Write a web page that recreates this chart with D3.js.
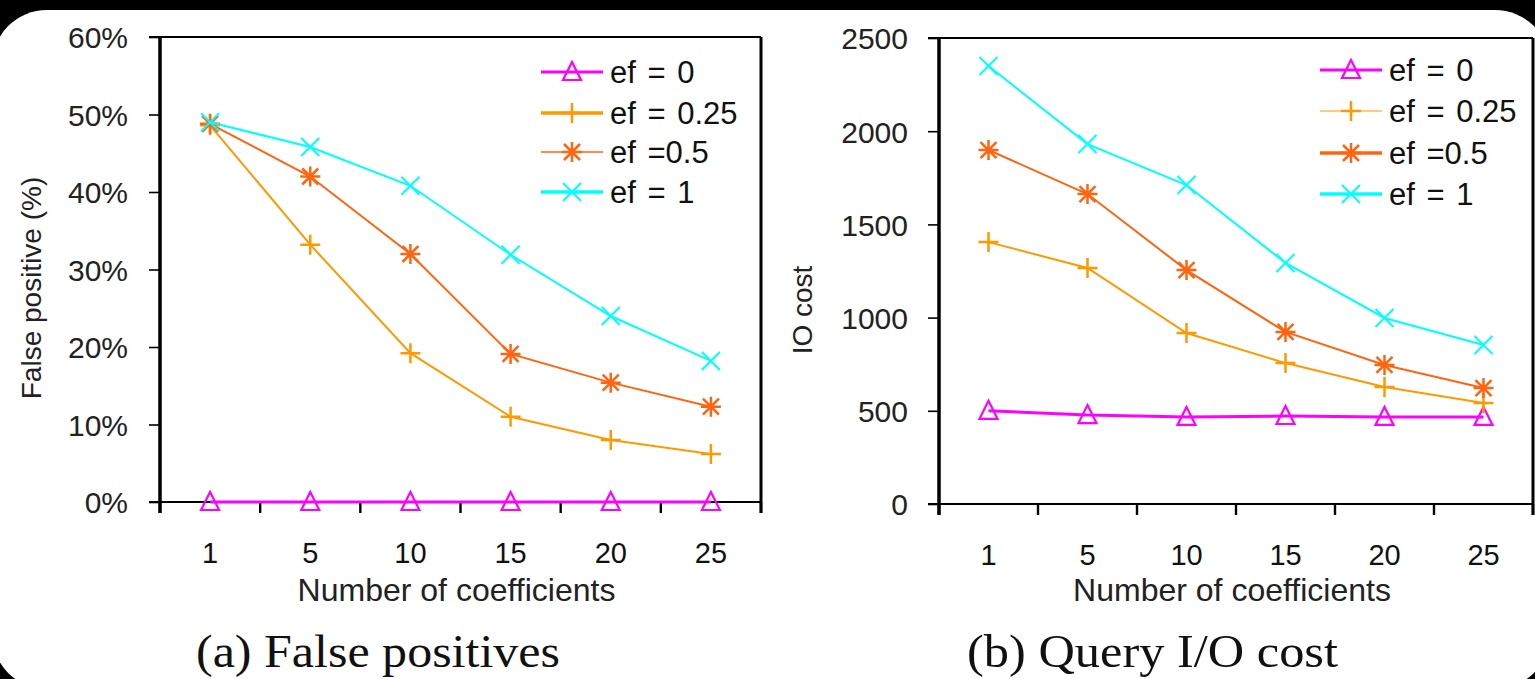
<!DOCTYPE html>
<html>
<head>
<meta charset="utf-8">
<script src="https://cdn.jsdelivr.net/npm/d3@7"></script>
<style>
  html, body { margin: 0; padding: 0; background: #000; }
  svg { display: block; }
  .sans { font-family: "Liberation Sans", Arial, Helvetica, sans-serif; }
  .serif { font-family: "Liberation Serif", "Times New Roman", serif; }
</style>
</head>
<body>
<svg id="chart" width="1535" height="679"></svg>
<script>
// ---------------- data ----------------
const categories = ["1", "5", "10", "15", "20", "25"];
const seriesNames = ["ef = 0", "ef = 0.25", "ef =0.5", "ef = 1"];

// (a) False positives, in %
const fpEf0   = [0, 0, 0, 0, 0, 0];
const fpEf025 = [48.6, 33.2, 19.2, 11.0, 8.0, 6.2];
const fpEf05  = [48.8, 42.0, 32.0, 19.1, 15.4, 12.3];
const fpEf1   = [49.0, 45.8, 40.8, 31.9, 24.0, 18.2];
const fpTicks = [0, 10, 20, 30, 40, 50, 60];

// (b) Query I/O cost
const ioEf0   = [500, 477, 467, 472, 467, 467];
const ioEf025 = [1405, 1266, 917, 756, 628, 542];
const ioEf05  = [1899, 1663, 1255, 923, 746, 622];
const ioEf1   = [2350, 1931, 1711, 1293, 998, 853];
const ioTicks = [0, 500, 1000, 1500, 2000, 2500];

const xTitle = "Number of coefficients";

// ---------------- styles ----------------
const colors = ["#ff00ff", "#ff9900", "#ff6410", "#00ffff"];
const markerTypes = ["triangle", "plus", "star", "cross"];
const lineWidths = [3, 2, 2, 2];

const svg = d3.select("#chart");

// page background: black with rounded white sheet
svg.append("rect").attr("x", 0).attr("y", 0).attr("width", 1535).attr("height", 679).attr("fill", "#000");
svg.append("rect").attr("x", -8).attr("y", 10).attr("width", 1558).attr("height", 679)
   .attr("rx", 55).attr("ry", 55).attr("fill", "#fff");

function drawMarker(g, type, cx, cy, color) {
  const m = g.append("g").attr("transform", `translate(${cx},${cy})`)
             .attr("fill", "none").attr("stroke", color);
  if (type === "triangle") {
    m.append("path").attr("d", "M0,-10 L9,8 L-9,8 Z").attr("stroke-width", 2.2);
  } else if (type === "plus") {
    m.append("path").attr("d", "M-10,0 H10 M0,-10 V10").attr("stroke-width", 2.5);
  } else if (type === "star") {
    m.append("path").attr("d", "M-10,0 H10 M0,-10 V10 M-8,-8 L8,8 M-8,8 L8,-8").attr("stroke-width", 2.5);
  } else if (type === "cross") {
    m.append("path").attr("d", "M-9,-9 L9,9 M-9,9 L9,-9").attr("stroke-width", 2);
  }
}

function drawPanel(cfg) {
  const g = svg.append("g");
  const x = d3.scaleBand().domain(categories).range([cfg.x0, cfg.x1]).padding(0);
  const y = d3.scaleLinear().domain([0, cfg.yMax]).range([cfg.yBottom, cfg.yTop]);
  const tick = 11;
  const top = y(cfg.yMax), bottom = y(0);

  // y axis ticks + labels via d3 axis
  const yAxis = d3.axisLeft(y).tickValues(cfg.ticks).tickSize(tick).tickPadding(cfg.yPad)
                  .tickFormat(cfg.fmt);
  const ya = g.append("g").attr("transform", `translate(${cfg.x0},0)`).call(yAxis);
  ya.select(".domain").remove();
  ya.selectAll(".tick line").attr("stroke", "#000").attr("stroke-width", 1.6);
  ya.selectAll(".tick text").attr("class", "sans").attr("font-size", 30).attr("fill", "#222")
    .attr("dy", "0.36em");

  // x axis labels via d3 axis
  const xAxis = d3.axisBottom(x).tickSize(0).tickPadding(40);
  const xa = g.append("g").attr("transform", `translate(0,${bottom})`).call(xAxis);
  xa.select(".domain").remove();
  xa.selectAll(".tick text").attr("class", "sans").attr("font-size", 29).attr("fill", "#111");

  // x ticks at band boundaries
  const bounds = categories.map(c => x(c)).concat([x.range()[1]]);
  g.selectAll(".xb").data(bounds).join("line")
    .attr("x1", d => d).attr("x2", d => d).attr("y1", bottom).attr("y2", bottom + tick)
    .attr("stroke", "#000").attr("stroke-width", 2.4);

  // frame
  g.append("line").attr("x1", cfg.x0 - tick).attr("x2", cfg.x1).attr("y1", top).attr("y2", top)
    .attr("stroke", "#000").attr("stroke-width", 2);
  g.append("line").attr("x1", cfg.x0 - tick).attr("x2", cfg.x1).attr("y1", bottom).attr("y2", bottom)
    .attr("stroke", "#000").attr("stroke-width", 2);
  g.append("line").attr("x1", cfg.x1).attr("x2", cfg.x1).attr("y1", top).attr("y2", bottom + tick)
    .attr("stroke", "#000").attr("stroke-width", 3);
  g.append("line").attr("x1", cfg.x0).attr("x2", cfg.x0).attr("y1", top).attr("y2", bottom + tick)
    .attr("stroke", "#000").attr("stroke-width", 3.5);

  // series
  const line = d3.line().x((d, i) => x(categories[i]) + x.bandwidth() / 2).y(d => y(d));
  cfg.series.forEach((vals, si) => {
    g.append("path").datum(vals).attr("d", line).attr("fill", "none")
      .attr("stroke", colors[si]).attr("stroke-width", lineWidths[si]);
    vals.forEach((v, i) => drawMarker(g, markerTypes[si], x(categories[i]) + x.bandwidth() / 2, y(v), colors[si]));
  });

  // legend
  seriesNames.forEach((name, si) => {
    const ly = cfg.legY[si];
    g.append("line").attr("x1", cfg.legX).attr("x2", cfg.legX + 62).attr("y1", ly).attr("y2", ly)
      .attr("stroke", colors[si]).attr("stroke-width", cfg.legW[si]);
    drawMarker(g, markerTypes[si], cfg.legX + 31, ly, colors[si]);
    g.append("text").attr("class", "sans").attr("x", cfg.legX + 69).attr("y", ly + 11)
      .attr("font-size", 31).attr("fill", "#111").attr("word-spacing", 3)
      .style("white-space", "pre").text(name);
  });

  // y title
  g.append("text").attr("class", "sans")
    .attr("transform", `translate(${cfg.yTitleX},${cfg.yTitleY}) rotate(-90)`)
    .attr("text-anchor", "middle").attr("font-size", 28).attr("fill", "#222").text(cfg.yTitle);

  // x title
  g.append("text").attr("class", "sans").attr("x", (cfg.x0 + cfg.x1) / 2 - 4).attr("y", 601)
    .attr("text-anchor", "middle").attr("font-size", 32).attr("fill", "#222").text(xTitle);

  // caption
  g.append("text").attr("class", "serif").attr("x", cfg.capX).attr("y", 667)
    .attr("font-size", 46).attr("fill", "#111")
    .attr("textLength", cfg.capLen).attr("lengthAdjust", "spacingAndGlyphs").text(cfg.caption);
}

drawPanel({
  x0: 160, x1: 761, yTop: 37, yBottom: 502, yMax: 60, ticks: fpTicks, yPad: 21,
  fmt: d => d + "%",
  series: [fpEf0, fpEf025, fpEf05, fpEf1],
  legX: 541, legY: [72, 113, 152, 192], legW: [3, 3.5, 1.5, 3.5],
  yTitle: "False positive (%)", yTitleX: 41, yTitleY: 288,
  caption: "(a) False positives", capX: 196, capLen: 364
});

drawPanel({
  x0: 939, x1: 1533, yTop: 38, yBottom: 504, yMax: 2500, ticks: ioTicks, yPad: 20,
  fmt: d => String(d),
  series: [ioEf0, ioEf025, ioEf05, ioEf1],
  legX: 1320, legY: [70, 111, 153, 194], legW: [3, 1.2, 3.5, 3.5],
  yTitle: "IO cost", yTitleX: 812, yTitleY: 310,
  caption: "(b) Query I/O cost", capX: 967, capLen: 371
});
</script>
</body>
</html>
